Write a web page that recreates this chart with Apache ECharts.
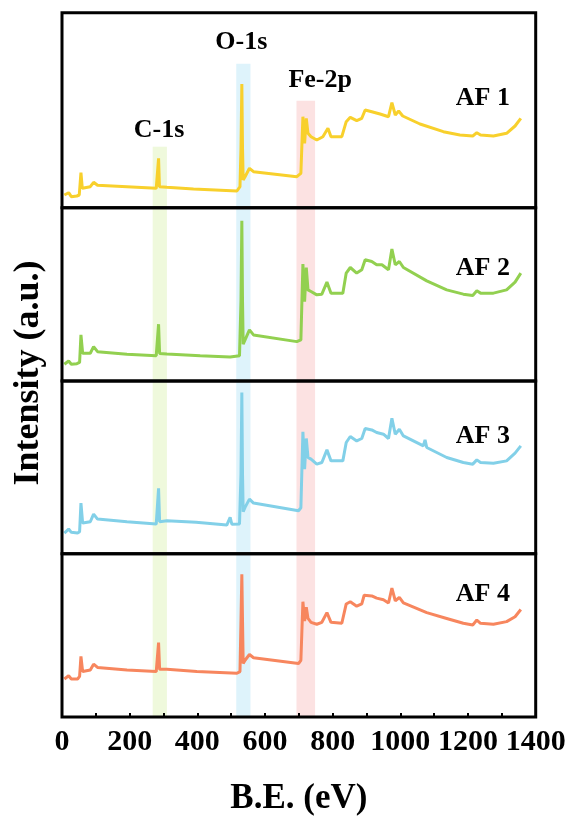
<!DOCTYPE html>
<html>
<head>
<meta charset="utf-8">
<script src="https://cdn.jsdelivr.net/npm/echarts@6/dist/echarts.min.js"></script>
<style>html,body{margin:0;padding:0;background:#fff;}#c{width:571px;height:817px;}</style>
</head>
<body>
<div id="c"></div>
<script>
// ---- data (B.E. in eV, intensity in a.u.) ----
const sampleNames = ['AF 1', 'AF 2', 'AF 3', 'AF 4'];
const af1 = [[7,12.7],[19.6,15],[27.5,11],[44,11.7],[51,12.7],[56,35],[60,19.4],[83.6,21],[93.4,25.4],[105,22.4],[192,21],[278.5,19.4],[282.5,21],[285.4,49.4],[288,21],[310,20.4],[388.6,18.7],[517,16.7],[526,21],[529,60],[531.5,123.7],[533.5,60],[535.5,27.7],[541,31],[554,39.4],[566,36],[694,31],[706,34.4],[712,91],[717,64.4],[722,89.4],[727,74.4],[736,71],[753,67.7],[771,71],[786,79.4],[795,71],[827,71],[840,86],[852,90.4],[871,87],[886,89.4],[896,97.7],[915.5,96],[940,93.7],[965,91],[975,105],[985,92.7],[995,96.7],[1007,91.7],[1058,83.7],[1127,76],[1176,72.7],[1214,71.7],[1226,75],[1237,72.7],[1275,71.7],[1314,74.4],[1339,81.7],[1356,89.4]];
const af2 = [[7,16.7],[19.6,20],[27.5,16.7],[44,17.3],[52,18.5],[56,46],[61,27.7],[83.6,27.7],[93.4,34.3],[105,29.3],[192,26.7],[278.5,25.3],[282.5,27],[285.4,56.7],[288.5,27.5],[310,27],[408.4,25.3],[497,24],[524.6,25.3],[529,80],[531.5,160],[533.5,80],[535.5,36.7],[541,41],[554,51],[566,46],[694,39.3],[706,41],[712,116.7],[717,79.3],[722,113.3],[727,91],[736,89.3],[753,86],[768,86.7],[783,98.7],[795,87.7],[830,87.7],[840,107.7],[852,113.3],[871,107.7],[886,111],[896,121],[915.5,119.3],[930,116],[945.5,116],[965,111],[975,131.7],[985,116],[997,119.3],[1009,113.3],[1078,100],[1137,91],[1186,86.7],[1214,85.3],[1226,90],[1237,87.7],[1275,87.7],[1314,91],[1339,98.7],[1356,107.7]];
const af3 = [[7,20.7],[19.6,24.7],[27.5,21.4],[46,20.7],[52,22],[56,50.7],[61,30.7],[83.6,32],[93.4,39.7],[105,34.7],[192,32],[278.5,29.7],[282.5,31],[285.4,65.4],[288.5,32],[310,33],[396,31.4],[398.6,33],[401,31.4],[487,28.7],[497,36.4],[502,29.5],[524.6,29.7],[529,80],[531.5,161.4],[533.5,80],[535.5,42],[541,46.4],[554,54.7],[566,50.7],[699,43],[706,46],[712,122],[717,84.7],[722,115.4],[727,96.4],[736,94.7],[753,89.7],[768,91.4],[783,104],[795,93],[830,93],[840,111.4],[852,117.4],[871,113],[886,115.4],[896,125.4],[915.5,124],[930,121.4],[950,119.7],[965,115.4],[975,135.7],[985,119.7],[997,124.7],[1009,118],[1068,108],[1073,114],[1078,106.4],[1137,96.4],[1186,91.4],[1214,89.7],[1226,94],[1237,91.4],[1275,90.7],[1314,93],[1339,100.7],[1356,108]];
const af4 = [[7,39.3],[19.6,42.7],[27.5,39.3],[46,39.3],[52,42],[56,62.7],[61,47],[83.6,48.7],[93.4,54.7],[105,51.3],[192,48.7],[278.5,47],[282.5,48.5],[285.4,77],[288.5,49.3],[310,49.3],[398.6,47],[400,48.5],[403,47],[517,45.3],[526,47],[529,100],[531.5,147.7],[533.5,100],[535.5,55.3],[541,58.7],[554,64.7],[566,61.3],[699,55.3],[706,58.7],[712,119.3],[717,99.3],[722,113.7],[727,102],[736,98],[753,96],[768,98],[783,108],[795,98],[827,97],[840,117],[852,119.3],[871,114.7],[886,117],[893,126],[915.5,125.3],[930,123],[950,121.3],[965,118],[975,133.3],[985,120.3],[997,123.7],[1009,118],[1078,108],[1137,102],[1186,97],[1214,95.3],[1226,100.3],[1237,97],[1275,96],[1314,98.7],[1339,103.7],[1356,111.3]];
const spectra = [af1, af2, af3, af4];
const sampleLabelAt = [[1244,109],[1244,113],[1244,118],[1244,127]];

const peakNames = ['C-1s', 'O-1s', 'Fe-2p'];
const peakBands = [[268,310],[515,557],[693,748]];
const bandTopInFirst = [61, 144, 107];
const peakLabelAt = [[287,77],[530,165],[763,127]];

const xTickValues = [0,200,400,600,800,1000,1200,1400];
const panelMax = [195, 173, 173, 169];

// ---- styles ----
const colors = ['#F8D02C', '#92D050', '#82D0E8', '#F7865E'];
const bandColors = ['#EFF9DC', '#DEF3FB', '#FCE2E2'];
const gridTops = [12.7, 207.7, 381, 553.7];
const gridHeights = [195, 173.3, 172.7, 169.3];
const serif = 'Liberation Serif, Times New Roman, serif';
const labelStyle = {show: true, position: 'inside', formatter: '{b}', color: '#000', opacity: 1,
  fontFamily: serif, fontWeight: 'bold', fontSize: 26, textBorderWidth: 0, textBorderColor: 'transparent'};

const grids = [], xAxes = [], yAxes = [], series = [];
for (let i = 0; i < 4; i++) {
  grids.push({left: 62, right: 35.3, top: gridTops[i], height: gridHeights[i], show: true,
    borderColor: '#000', borderWidth: 3, backgroundColor: 'transparent', z: 10});
  const last = i === 3;
  xAxes.push({type: 'value', gridIndex: i, min: 0, max: 1400, interval: 100,
    show: true,
    axisLine: {show: false},
    splitLine: {show: false},
    axisTick: {show: last, inside: true, length: 4, lineStyle: {color: '#000', width: 2}},
    axisLabel: {show: last, margin: 10, color: '#000', fontFamily: serif, fontWeight: 'bold', fontSize: 30,
      formatter: v => xTickValues.indexOf(v) >= 0 ? String(v) : ''},
    z: 11,
    name: last ? 'B.E. (eV)' : '', nameLocation: 'middle', nameGap: 64,
    nameTextStyle: {color: '#000', fontFamily: serif, fontWeight: 'bold', fontSize: 35}
  });
  yAxes.push({type: 'value', gridIndex: i, min: 0, max: panelMax[i], show: false});

  const areas = peakBands.map((b, k) => [
    {coord: [b[0], i === 0 ? bandTopInFirst[k] : panelMax[i]], itemStyle: {color: bandColors[k]}},
    {coord: [b[1], 0]}
  ]);
  series.push({type: 'line', xAxisIndex: i, yAxisIndex: i, data: spectra[i], showSymbol: false,
    symbol: 'none', lineStyle: {color: colors[i], width: 3}, z: 3, animation: false,
    markArea: {silent: true, data: areas, itemStyle: {opacity: 1}}});
  series.push({type: 'scatter', xAxisIndex: i, yAxisIndex: i, symbolSize: 0, animation: false,
    silent: true, itemStyle: {opacity: 0},
    data: [{value: sampleLabelAt[i], name: sampleNames[i]}],
    label: labelStyle, z: 4});
}
series.push({type: 'scatter', xAxisIndex: 0, yAxisIndex: 0, symbolSize: 0, animation: false,
  silent: true, itemStyle: {opacity: 0},
  data: peakNames.map((n, k) => ({value: peakLabelAt[k], name: n})),
  label: labelStyle, z: 4});

const chart = echarts.init(document.getElementById('c'), null, {renderer: 'canvas'});
chart.setOption({
  backgroundColor: '#fff',
  animation: false,
  grid: grids, xAxis: xAxes, yAxis: yAxes, series: series,
  graphic: [{type: 'text', z: 20, x: 29, y: 373, rotation: Math.PI / 2,
    style: {text: 'Intensity (a.u.)', fill: '#000', font: 'bold 36px "Liberation Serif"',
      align: 'center', verticalAlign: 'middle'}}]
});
</script>
</body>
</html>
